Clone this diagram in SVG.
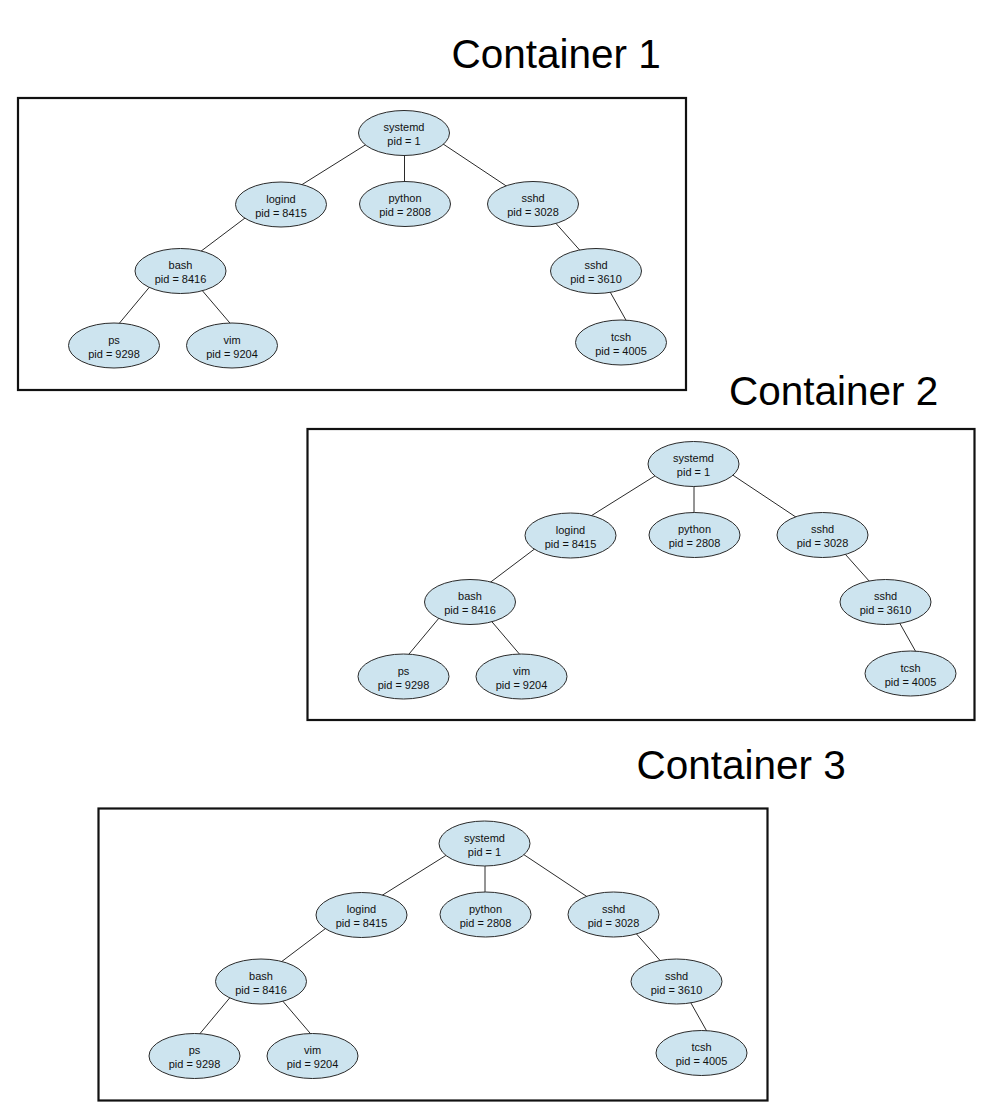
<svg xmlns="http://www.w3.org/2000/svg" width="998" height="1103" viewBox="0 0 998 1103">
<style>
.bg{fill:#ffffff}
.title{font-family:"Liberation Sans",Arial,Helvetica,sans-serif;font-size:40.5px;fill:#000000}
.box{fill:#ffffff;stroke:#111111;stroke-width:2.2}
.node ellipse{fill:#cde4ef;stroke:#2a2a2a;stroke-width:1}
.node text{font-family:"Liberation Sans",Arial,Helvetica,sans-serif;font-size:11px;fill:#111111;text-anchor:middle}
.edges line{stroke:#2a2a2a;stroke-width:1}
</style>
<rect class="bg" x="0" y="0" width="998" height="1103"/>

<text class="title" x="451.5" y="68">Container 1</text>
<text class="title" x="729" y="405">Container 2</text>
<text class="title" x="636.5" y="779">Container 3</text>

<!-- Container 1 -->
<g id="container1" transform="translate(18,98)">
  <rect class="box" x="0" y="0" width="668" height="292"/>
  <g id="c1-connectors" class="edges">
    <line x1="348.4" y1="46.3" x2="281.6" y2="88.1"/>
    <line x1="386.5" y1="55" x2="386.5" y2="86"/>
    <line x1="424.4" y1="45.5" x2="490.7" y2="89.6"/>
    <line x1="228.9" y1="118.6" x2="181.8" y2="154.1"/>
    <line x1="537.3" y1="124.7" x2="563.4" y2="154"/>
    <line x1="133.3" y1="186.9" x2="99.8" y2="227.1"/>
    <line x1="182.4" y1="190.4" x2="213.6" y2="227"/>
    <line x1="590.4" y1="190.9" x2="609.7" y2="225.2"/>
  </g>
  <g id="c1-systemd" class="node"><ellipse cx="386" cy="35" rx="45.5" ry="22.5"/><text x="386" y="33">systemd</text><text x="386" y="47">pid = 1</text></g>
  <g id="c1-logind" class="node"><ellipse cx="263" cy="106.5" rx="45.5" ry="22.5"/><text x="263" y="104.5">logind</text><text x="263" y="118.5">pid = 8415</text></g>
  <g id="c1-python" class="node"><ellipse cx="387" cy="106" rx="45.5" ry="22.5"/><text x="387" y="104">python</text><text x="387" y="118">pid = 2808</text></g>
  <g id="c1-sshd-3028" class="node"><ellipse cx="515" cy="106" rx="45.5" ry="22.5"/><text x="515" y="104">sshd</text><text x="515" y="118">pid = 3028</text></g>
  <g id="c1-bash" class="node"><ellipse cx="162.5" cy="173" rx="45.5" ry="22.5"/><text x="162.5" y="171">bash</text><text x="162.5" y="185">pid = 8416</text></g>
  <g id="c1-sshd-3610" class="node"><ellipse cx="578" cy="173" rx="45.5" ry="22.5"/><text x="578" y="171">sshd</text><text x="578" y="185">pid = 3610</text></g>
  <g id="c1-ps" class="node"><ellipse cx="96" cy="247.5" rx="45.5" ry="22.5"/><text x="96" y="245.5">ps</text><text x="96" y="259.5">pid = 9298</text></g>
  <g id="c1-vim" class="node"><ellipse cx="214" cy="247.5" rx="45.5" ry="22.5"/><text x="214" y="245.5">vim</text><text x="214" y="259.5">pid = 9204</text></g>
  <g id="c1-tcsh" class="node"><ellipse cx="603" cy="244.5" rx="45.5" ry="22.5"/><text x="603" y="242.5">tcsh</text><text x="603" y="256.5">pid = 4005</text></g>
</g>

<!-- Container 2 -->
<g id="container2" transform="translate(307.5,429)">
  <rect class="box" x="0" y="0" width="667" height="291"/>
  <g id="c2-connectors" class="edges">
    <line x1="348.4" y1="46.3" x2="281.6" y2="88.1"/>
    <line x1="386.5" y1="55" x2="386.5" y2="86"/>
    <line x1="424.4" y1="45.5" x2="490.7" y2="89.6"/>
    <line x1="228.9" y1="118.6" x2="181.8" y2="154.1"/>
    <line x1="537.3" y1="124.7" x2="563.4" y2="154"/>
    <line x1="133.3" y1="186.9" x2="99.8" y2="227.1"/>
    <line x1="182.4" y1="190.4" x2="213.6" y2="227"/>
    <line x1="590.4" y1="190.9" x2="609.7" y2="225.2"/>
  </g>
  <g id="c2-systemd" class="node"><ellipse cx="386" cy="35" rx="45.5" ry="22.5"/><text x="386" y="33">systemd</text><text x="386" y="47">pid = 1</text></g>
  <g id="c2-logind" class="node"><ellipse cx="263" cy="106.5" rx="45.5" ry="22.5"/><text x="263" y="104.5">logind</text><text x="263" y="118.5">pid = 8415</text></g>
  <g id="c2-python" class="node"><ellipse cx="387" cy="106" rx="45.5" ry="22.5"/><text x="387" y="104">python</text><text x="387" y="118">pid = 2808</text></g>
  <g id="c2-sshd-3028" class="node"><ellipse cx="515" cy="106" rx="45.5" ry="22.5"/><text x="515" y="104">sshd</text><text x="515" y="118">pid = 3028</text></g>
  <g id="c2-bash" class="node"><ellipse cx="162.5" cy="173" rx="45.5" ry="22.5"/><text x="162.5" y="171">bash</text><text x="162.5" y="185">pid = 8416</text></g>
  <g id="c2-sshd-3610" class="node"><ellipse cx="578" cy="173" rx="45.5" ry="22.5"/><text x="578" y="171">sshd</text><text x="578" y="185">pid = 3610</text></g>
  <g id="c2-ps" class="node"><ellipse cx="96" cy="247.5" rx="45.5" ry="22.5"/><text x="96" y="245.5">ps</text><text x="96" y="259.5">pid = 9298</text></g>
  <g id="c2-vim" class="node"><ellipse cx="214" cy="247.5" rx="45.5" ry="22.5"/><text x="214" y="245.5">vim</text><text x="214" y="259.5">pid = 9204</text></g>
  <g id="c2-tcsh" class="node"><ellipse cx="603" cy="244.5" rx="45.5" ry="22.5"/><text x="603" y="242.5">tcsh</text><text x="603" y="256.5">pid = 4005</text></g>
</g>

<!-- Container 3 -->
<g id="container3" transform="translate(98.5,808.5)">
  <rect class="box" x="0" y="0" width="669" height="292"/>
  <g id="c3-connectors" class="edges">
    <line x1="348.4" y1="46.3" x2="281.6" y2="88.1"/>
    <line x1="386.5" y1="55" x2="386.5" y2="86"/>
    <line x1="424.4" y1="45.5" x2="490.7" y2="89.6"/>
    <line x1="228.9" y1="118.6" x2="181.8" y2="154.1"/>
    <line x1="537.3" y1="124.7" x2="563.4" y2="154"/>
    <line x1="133.3" y1="186.9" x2="99.8" y2="227.1"/>
    <line x1="182.4" y1="190.4" x2="213.6" y2="227"/>
    <line x1="590.4" y1="190.9" x2="609.7" y2="225.2"/>
  </g>
  <g id="c3-systemd" class="node"><ellipse cx="386" cy="35" rx="45.5" ry="22.5"/><text x="386" y="33">systemd</text><text x="386" y="47">pid = 1</text></g>
  <g id="c3-logind" class="node"><ellipse cx="263" cy="106.5" rx="45.5" ry="22.5"/><text x="263" y="104.5">logind</text><text x="263" y="118.5">pid = 8415</text></g>
  <g id="c3-python" class="node"><ellipse cx="387" cy="106" rx="45.5" ry="22.5"/><text x="387" y="104">python</text><text x="387" y="118">pid = 2808</text></g>
  <g id="c3-sshd-3028" class="node"><ellipse cx="515" cy="106" rx="45.5" ry="22.5"/><text x="515" y="104">sshd</text><text x="515" y="118">pid = 3028</text></g>
  <g id="c3-bash" class="node"><ellipse cx="162.5" cy="173" rx="45.5" ry="22.5"/><text x="162.5" y="171">bash</text><text x="162.5" y="185">pid = 8416</text></g>
  <g id="c3-sshd-3610" class="node"><ellipse cx="578" cy="173" rx="45.5" ry="22.5"/><text x="578" y="171">sshd</text><text x="578" y="185">pid = 3610</text></g>
  <g id="c3-ps" class="node"><ellipse cx="96" cy="247.5" rx="45.5" ry="22.5"/><text x="96" y="245.5">ps</text><text x="96" y="259.5">pid = 9298</text></g>
  <g id="c3-vim" class="node"><ellipse cx="214" cy="247.5" rx="45.5" ry="22.5"/><text x="214" y="245.5">vim</text><text x="214" y="259.5">pid = 9204</text></g>
  <g id="c3-tcsh" class="node"><ellipse cx="603" cy="244.5" rx="45.5" ry="22.5"/><text x="603" y="242.5">tcsh</text><text x="603" y="256.5">pid = 4005</text></g>
</g>
</svg>
